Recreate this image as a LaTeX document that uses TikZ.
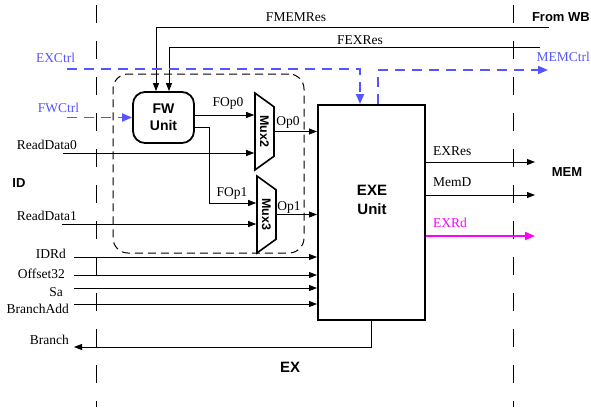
\documentclass[tikz,border=0pt]{standalone}
\usepackage{fontspec}
\setmainfont{Liberation Serif}
\setsansfont{Liberation Sans}
\usetikzlibrary{arrows.meta,shapes.geometric}
\definecolor{ctrlblue}{RGB}{85,85,255}
\definecolor{rdpink}{RGB}{255,0,255}

\begin{document}
\begin{tikzpicture}[x=1pt,y=-1pt,
		sig/.style={font=\fontsize{13.5}{15}\selectfont, inner sep=0pt},
		title/.style={font=\fontsize{14}{17}\selectfont\sffamily\bfseries, inner sep=0pt, align=center},
		wire/.style={line width=0.9pt, -{Triangle[length=8pt,width=6pt]}},
		ctrl/.style={ctrlblue, line width=1.8pt, dash pattern=on 10pt off 7pt},
		ctrltip/.style={-{Triangle[length=10pt,width=8pt]}},
		stage/.style={line width=1pt, dash pattern=on 18pt off 18pt},
		region/.style={draw, line width=1pt, dash pattern=on 8pt off 5pt, rounded corners=15pt, inner sep=0pt},
		mux/.style={trapezium, trapezium angle=45, trapezium stretches=true, draw, line width=1.6pt, rotate=-90,
			minimum width=77pt, minimum height=19pt, inner sep=0pt, font=\fontsize{12.5}{13}\selectfont\sffamily\bfseries},
	]
			\useasboundingbox (0,0) rectangle (591,407);
			\draw[stage] (96,5) -- (96,407);
			\draw[stage] (513,5) -- (513,407);
			\node[region, minimum width=191pt, minimum height=179pt] (fwarea) at (208.5,163.5) {};
			\node[title, draw, line width=1.8pt, rounded corners=12pt, minimum width=61pt, minimum height=51pt] (fw) at (163.5,117.5) {FW\\Unit};
			\node[draw, line width=2pt, minimum width=107pt, minimum height=215pt, inner sep=0pt] (exe) at (371.5,212.5) {};
			\node[title, font=\fontsize{15}{19}\selectfont\sffamily\bfseries] (exelbl) at (372,200) {EXE\\Unit};
			\node[mux] (mux2) at (264.5,131.5) {Mux2};
			\node[mux] (mux3) at (266.5,214.5) {Mux3};
			\node[title, font=\fontsize{13}{15}\selectfont\sffamily\bfseries] (idlbl) at (19,183) {ID};
			\node[title, font=\fontsize{15}{17}\selectfont\sffamily\bfseries] (exlbl) at (290,367) {EX};
			\node[title, font=\fontsize{13}{15}\selectfont\sffamily\bfseries] (memlbl) at (567,172) {MEM};
			\node[title, font=\fontsize{13}{15}\selectfont\sffamily\bfseries, anchor=east] (wblbl) at (590,17) {From WB};
			\node[sig] (fmemlbl) at (296,17) {FMEMRes};
			\node[sig] (fexlbl) at (360,40) {FEXRes};
			\coordinate (fmem) at (549,27);
			\coordinate (fex) at (540,47);
			\draw[wire] (fmem) -| ([xshift=-7.5pt]fw.north);
			\draw[wire] (fex) -| ([xshift=5.5pt]fw.north);
			\node[sig, ctrlblue] (exclbl) at (55.5,58) {EXCtrl};
			\node[sig, ctrlblue, anchor=east] (memclbl) at (590,57) {MEMCtrl};
			\node[sig, ctrlblue] (fwclbl) at (58.5,108) {FWCtrl};
			\coordinate (exc) at (67,69);
			\coordinate (memc) at (548,70);
			\coordinate (fwc) at (67,117.5);
			\draw[ctrl, ctrltip] (exc) -| ([xshift=-11.5pt]exe.north);
			\draw[ctrl, ctrltip] ([xshift=6.5pt]exe.north) |- (memc);
			\draw[ctrl, ctrltip] (fwc) -- (fw.west);
			\node[sig] (fop0lbl) at (228,103) {FOp0};
			\node[sig] (fop1lbl) at (232,193) {FOp1};
			\node[sig] (op0lbl) at (288,122) {Op0};
			\node[sig] (op1lbl) at (289,207) {Op1};
			\coordinate (fop1) at (209,203);
			\draw[wire] ([yshift=2.5pt]fw.east) -- ([yshift=2.5pt]fw.east -| mux2.south);
			\draw[wire] ([yshift=-9.5pt]fw.east) -| (fop1) -- (fop1 -| mux3.south);
			\draw[wire] (mux2.north) -- (mux2.north -| exe.west);
			\draw[wire] (mux3.north) -- (mux3.north -| exe.west);
			\node[sig, anchor=east] (rd0lbl) at (77,145) {ReadData0};
			\node[sig, anchor=east] (rd1lbl) at (77,216) {ReadData1};
			\coordinate (rd0) at (63,153);
			\coordinate (rd1) at (62,224);
			\draw[wire] (rd0) -- (rd0 -| mux2.south);
			\draw[wire] (rd1) -- (rd1 -| mux3.south);
			\foreach \name/\lx/\ly/\y [count=\i] in {IDRd/66/254/257,Offset32/65/274/275,Sa/63/292/288,BranchAdd/69/309/304} {
				\node[sig, anchor=east] (in\i) at (\lx,\ly) {\name};
				\coordinate (src\i) at (74,\y);
				\draw[wire] (src\i) -- (src\i -| exe.west);
			}
			\node[sig, anchor=east] (brlbl) at (69,340) {Branch};
			\coordinate (br) at (74,347);
			\draw[wire] ([xshift=-0.5pt]exe.south) |- (br);
			\foreach \name/\ly/\y [count=\i] in {EXRes/151/162,MemD/182/195} {
				\node[sig, anchor=west] (out\i) at (433,\ly) {\name};
				\coordinate (dst\i) at (535,\y);
				\draw[wire] (dst\i -| exe.east) -- (dst\i);
			}
			\node[sig, rdpink, anchor=west] (exrdlbl) at (433,223) {EXRd};
			\coordinate (exrd) at (535,236);
			\draw[rdpink, line width=1.8pt, -{Triangle[length=10pt,width=8pt]}] (exrd -| exe.east) -- (exrd);
		\end{tikzpicture}
\end{document}
